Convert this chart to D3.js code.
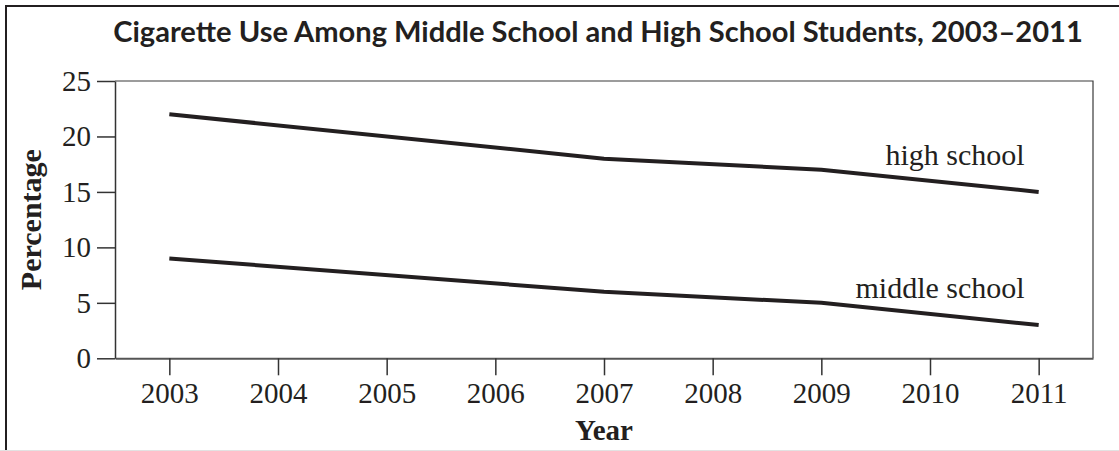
<!DOCTYPE html>
<html>
    <head>
        <meta charset="utf-8">
        <script src="https://d3js.org/d3.v7.min.js"></script>
        <style>
            body { margin: 0; background: white; }
            svg text { fill: #231f20; }
        </style>
    </head>
    <body>
        <div id="d3render"></div>
    </body>
    <script>
        const years = [2003, 2007, 2009, 2011];
        const tickYears = [2003, 2004, 2005, 2006, 2007, 2008, 2009, 2010, 2011];
        const highSchool = [22, 18, 17, 15];
        const middleSchool = [9, 6, 5, 3];
        const yTicks = [0, 5, 10, 15, 20, 25];
        const seriesNames = ['high school', 'middle school'];

        const svgWidth = 1119;
        const svgHeight = 451;
        const plotLeft = 115;
        const plotRight = 1093;
        const plotTop = 81;
        const plotBottom = 358.3;
        const ink = '#231f20';

        const svg = d3.select('#d3render')
            .append('svg')
            .attr('width', svgWidth)
            .attr('height', svgHeight)
            .style('display', 'block')
            .style('background-color', 'white')

        // frame (left + top only, bottom faint line)
        svg.append('line')
            .attr('x1', 6).attr('x2', 6).attr('y1', 5).attr('y2', 451)
            .attr('stroke', ink).attr('stroke-width', 2)
        svg.append('line')
            .attr('x1', 5).attr('x2', svgWidth).attr('y1', 6).attr('y2', 6)
            .attr('stroke', ink).attr('stroke-width', 2)
        svg.append('line')
            .attr('x1', 0).attr('x2', svgWidth).attr('y1', 450.5).attr('y2', 450.5)
            .attr('stroke', '#e2e2e2').attr('stroke-width', 1)

        const xScale = d3.scaleLinear()
            .domain([2002.5, 2011.5])
            .range([plotLeft, plotRight])

        const yScale = d3.scaleLinear()
            .domain([0, 25])
            .range([plotBottom, plotTop])

        // box top + right
        svg.append('path')
            .attr('d', `M${plotLeft},${plotTop}H${plotRight}V${plotBottom}`)
            .attr('fill', 'none')
            .attr('stroke', '#3a3a3a')
            .attr('stroke-width', 1.2)

        const xAxis = d3.axisBottom(xScale)
            .tickValues(tickYears)
            .tickFormat(d3.format('d'))
            .tickSize(17)
            .tickSizeOuter(0)
            .tickPadding(7);

        const gx = svg.append('g')
            .attr('transform', `translate(0, ${plotBottom})`)
            .call(xAxis)
        gx.select('.domain').attr('stroke', '#555').attr('stroke-width', 2)
        gx.selectAll('.tick line').attr('stroke', '#333').attr('stroke-width', 1.5)
        gx.selectAll('.tick text')
            .attr('fill', ink)
            .style('font-family', '"Liberation Serif", "Times New Roman", serif')
            .style('font-size', '29px')

        const yAxis = d3.axisLeft(yScale)
            .tickValues(yTicks)
            .tickSize(18)
            .tickSizeOuter(0)
            .tickPadding(6);

        const gy = svg.append('g')
            .attr('transform', `translate(${plotLeft}, 0)`)
            .call(yAxis)
        gy.select('.domain').attr('stroke', '#333').attr('stroke-width', 1.5)
        gy.selectAll('.tick line').attr('stroke', '#333').attr('stroke-width', 1.5)
        gy.selectAll('.tick text')
            .attr('fill', ink)
            .style('font-family', '"Liberation Serif", "Times New Roman", serif')
            .style('font-size', '29px')

        const line = d3.line()
            .x((d) => xScale(d[0]))
            .y((d) => yScale(d[1]))

        const seriesData = [highSchool, middleSchool].map((vals) => years.map((y, i) => [y, vals[i]]))

        svg.selectAll('.series')
            .data(seriesData)
            .enter()
            .append('path')
            .attr('class', 'series')
            .attr('d', line)
            .attr('fill', 'none')
            .attr('stroke', ink)
            .attr('stroke-width', 4)
            .attr('stroke-linejoin', 'round')

        svg.selectAll('.serieslabel')
            .data(seriesData)
            .enter()
            .append('text')
            .attr('class', 'serieslabel')
            .attr('x', (d) => xScale(d[d.length - 1][0]) - 14)
            .attr('y', (d) => yScale(d[d.length - 1][1]) - 27)
            .attr('text-anchor', 'end')
            .style('font-family', '"Liberation Serif", "Times New Roman", serif')
            .style('font-size', '30px')
            .text((d, i) => seriesNames[i])

        // axis titles
        svg.append('text')
            .attr('x', (plotLeft + plotRight) / 2)
            .attr('y', 440)
            .attr('text-anchor', 'middle')
            .style('font-family', '"Liberation Serif", "Times New Roman", serif')
            .style('font-weight', 'bold')
            .style('font-size', '29px')
            .text('Year')

        svg.append('text')
            .attr('transform', `translate(41, ${(plotTop + plotBottom) / 2}) rotate(-90)`)
            .attr('text-anchor', 'middle')
            .style('font-family', '"Liberation Serif", "Times New Roman", serif')
            .style('font-weight', 'bold')
            .style('font-size', '30px')
            .text('Percentage')

        // title, sized to the reference width
        const title = svg.append('text')
            .attr('x', 598)
            .attr('y', 42)
            .attr('text-anchor', 'middle')
            .style('font-family', 'Lato, "Open Sans", sans-serif')
            .style('font-weight', 'bold')
            .style('font-size', '26px')
            .text('Cigarette Use Among Middle School and High School Students, 2003–2011')
        const w = title.node().getComputedTextLength();
        title.style('font-size', (26 * 970 / w).toFixed(2) + 'px')
    </script>
</html>
